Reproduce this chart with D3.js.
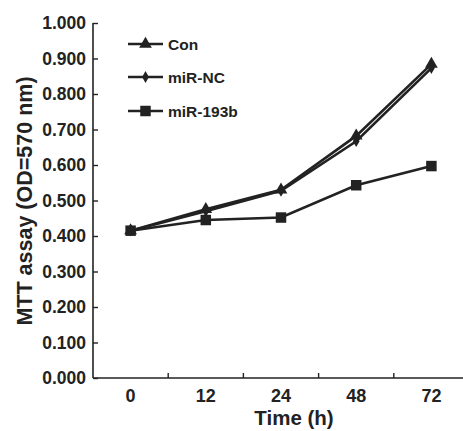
<!DOCTYPE html>
<html>
<head>
<meta charset="utf-8">
<script src="https://cdn.jsdelivr.net/npm/d3@7"></script>
<style>
  body { margin: 0; background: #fff; }
  svg { display: block; }
  text { font-family: "Liberation Sans", Arial, sans-serif; font-weight: bold; fill: #222; }
</style>
</head>
<body>
<svg id="chart" width="463" height="431"></svg>
<script>
// time points (categorical axis)
const times = ['0', '12', '24', '48', '72']
const yTicks = [0, 0.1, 0.2, 0.3, 0.4, 0.5, 0.6, 0.7, 0.8, 0.9, 1.0]

// OD values
const con = [0.415, 0.475, 0.530, 0.682, 0.884]
const miRNC = [0.415, 0.470, 0.527, 0.667, 0.873]
const miR193b = [0.415, 0.445, 0.452, 0.543, 0.597]

const series = [
    { name: 'Con', values: con, symbol: d3.symbolTriangle, size: 70 },
    { name: 'miR-NC', values: miRNC, symbol: d3.symbolDiamond, size: 40 },
    { name: 'miR-193b', values: miR193b, symbol: d3.symbolSquare, size: 110 }
]

const svg = d3.select('#chart')
const ink = '#222'

const x = d3.scaleBand().domain(times).range([93, 469])
const y = d3.scaleLinear().domain([0, 1]).range([378, 23])

// y axis, ticks pointing inward
const yAxis = svg.append('g').attr('transform', 'translate(93,0)')
    .call(d3.axisRight(y).tickValues(yTicks).tickSize(5).tickFormat(''))
yAxis.select('.domain').attr('d', 'M0,' + y(1) + 'V' + y(0)).attr('stroke', ink).attr('stroke-width', 1.6)
yAxis.selectAll('.tick line').attr('stroke', ink).attr('stroke-width', 1.4)

svg.append('g').selectAll('text').data(yTicks).join('text')
    .attr('x', 86)
    .attr('y', d => y(d))
    .attr('dy', '0.36em')
    .attr('text-anchor', 'end')
    .style('font-size', '17.5px')
    .text(d3.format('.3f'))

// x axis: line plus inward ticks at band boundaries
svg.append('line')
    .attr('x1', 93).attr('x2', 463)
    .attr('y1', y(0)).attr('y2', y(0))
    .attr('stroke', ink).attr('stroke-width', 1.6)

svg.append('g').selectAll('line').data(times.slice(1)).join('line')
    .attr('x1', d => x(d)).attr('x2', d => x(d))
    .attr('y1', y(0)).attr('y2', y(0) - 5)
    .attr('stroke', ink).attr('stroke-width', 1.4)

svg.append('g').selectAll('text').data(times).join('text')
    .attr('x', d => x(d) + x.bandwidth() / 2)
    .attr('y', 402)
    .attr('text-anchor', 'middle')
    .style('font-size', '18px')
    .text(d => d)

svg.append('text')
    .attr('x', 294).attr('y', 425)
    .attr('text-anchor', 'middle')
    .style('font-size', '20.5px')
    .text('Time (h)')

svg.append('text')
    .attr('transform', 'translate(32,201) rotate(-90)')
    .attr('text-anchor', 'middle')
    .style('font-size', '21.5px')
    .text('MTT assay (OD=570 nm)')

// lines + markers
const line = d3.line()
    .x((d, i) => x(times[i]) + x.bandwidth() / 2)
    .y(d => y(d))

series.forEach(function (s) {
    svg.append('path')
        .attr('d', line(s.values))
        .attr('fill', 'none')
        .attr('stroke', ink)
        .attr('stroke-width', 2.6)

    svg.append('g').selectAll('path').data(s.values).join('path')
        .attr('d', d3.symbol().type(s.symbol).size(s.size))
        .attr('transform', (d, i) => 'translate(' + (x(times[i]) + x.bandwidth() / 2) + ',' + y(d) + ')')
        .attr('fill', ink)
})

// legend
const legendY = [44, 77, 111]
series.forEach(function (s, i) {
    let g = svg.append('g').attr('transform', 'translate(128,' + legendY[i] + ')')
    g.append('line')
        .attr('x1', 0).attr('x2', 35)
        .attr('stroke', ink).attr('stroke-width', 2.6)
    g.append('path')
        .attr('d', d3.symbol().type(s.symbol).size(s.size))
        .attr('transform', 'translate(17.5,0)')
        .attr('fill', ink)
    g.append('text')
        .attr('x', 40).attr('dy', '0.36em')
        .style('font-size', '15.5px')
        .text(s.name)
})
</script>
</body>
</html>
